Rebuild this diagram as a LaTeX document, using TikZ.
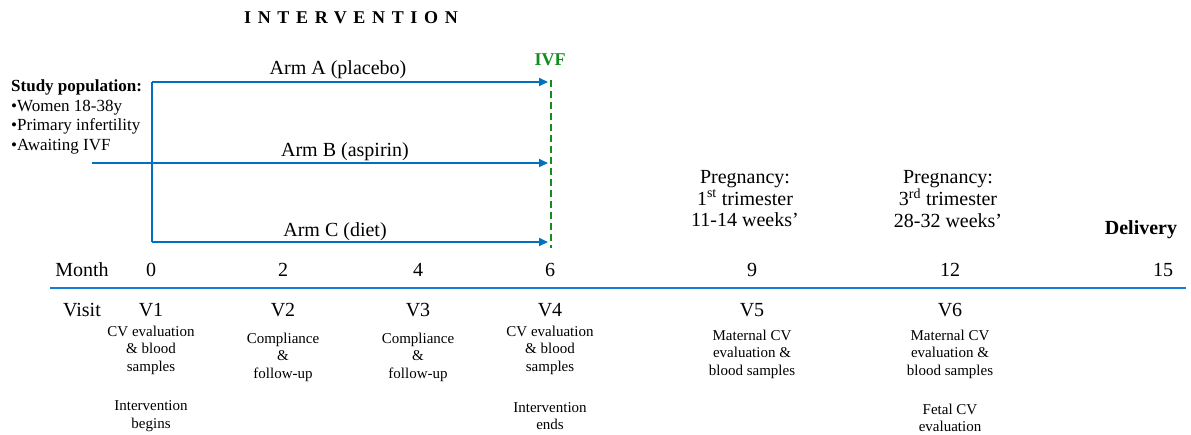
\documentclass[tikz,border=0pt]{standalone}
\usepackage{fontspec}
\setmainfont{Liberation Serif}
\usetikzlibrary{arrows.meta}

\definecolor{armblue}{RGB}{0,112,192}
\definecolor{axisblue}{RGB}{20,125,215}
\definecolor{ivfgreen}{RGB}{20,140,30}

\newcommand{\bigsize}{\fontsize{20}{21.5}\selectfont}
\newcommand{\midsize}{\fontsize{17}{19.5}\selectfont}
\newcommand{\smallsize}{\fontsize{15}{17.5}\selectfont}

\tikzset{
  armline/.style = {armblue, line width=2pt},
  armarrow/.style = {armline, -{Triangle[length=9pt, width=8pt]}},
  lbl/.style = {inner sep=0pt, font=\bigsize},
  note/.style = {inner sep=0pt, align=center, font=\smallsize},
}

\begin{document}
\begin{tikzpicture}[x=1pt, y=-1pt]
    \useasboundingbox (0,0) rectangle (1191,434);

    % title
    \node [inner sep=0pt, font=\fontsize{18}{20}\selectfont\bfseries\addfontfeatures{LetterSpace=37}]
        (title) at (351,18) {INTERVENTION};

    % study population
    \node [inner sep=0pt, anchor=west, align=left, font=\midsize] (pop) at (11,117)
        {\textbf{Study population:}\\•Women 18-38y\\•Primary infertility\\•Awaiting IVF};

    % arms
    \coordinate (split top) at (152,82);
    \coordinate (split bot) at (152,242);
    \coordinate (entry) at (92,163);
    \coordinate (endA) at (548,82);
    \coordinate (endB) at (548,163);
    \coordinate (endC) at (548,242);

    \draw [armline] (split top) -- (split bot);
    \draw [armarrow] (split top) -- (endA);
    \draw [armarrow] (entry) -- (endB);
    \draw [armarrow] (split bot) -- (endC);

    \node [lbl] (armA) at (338,70) {Arm A (placebo)};
    \node [lbl] (armB) at (345,152) {Arm B (aspirin)};
    \node [lbl] (armC) at (335,232) {Arm C (diet)};

    % IVF
    \node [inner sep=0pt, ivfgreen, font=\fontsize{18}{20}\selectfont\bfseries] (ivf) at (550,60) {IVF};
    \coordinate (ivf top) at (551,80);
    \coordinate (ivf bot) at (551,248);
    \draw [ivfgreen, line width=2pt, dash pattern=on 7pt off 4pt] (ivf top) -- (ivf bot);

    % pregnancy
    \node [lbl, align=center] (preg1) at (745,199) {Pregnancy:\\1\textsuperscript{st} trimester\\11-14 weeks’};
    \node [lbl, align=center] (preg3) at (948,199) {Pregnancy:\\3\textsuperscript{rd} trimester\\28-32 weeks’};
    \node [lbl, font=\bigsize\bfseries] (deliv) at (1141,230) {Delivery};

    % timeline
    \node [lbl] (month) at (82,270) {Month};
    \node [lbl] (visit) at (82,310) {Visit};
    \foreach \m/\x/\v in {0/151/V1, 2/283/V2, 4/418/V3, 6/550/V4, 9/752/V5, 12/950/V6} {
        \node [lbl] (m\m) at (\x,270) {\m};
        \node [lbl] (\v) at (\x,310) {\v};
    }
    \node [lbl] (m15) at (1163,270) {15};

    \coordinate (axis start) at (50,288);
    \coordinate (axis end) at (1186,288);
    \draw [axisblue, line width=2pt] (axis start) -- (axis end);

    % visit notes
    \node [note] (n1) at (151,350) {CV evaluation\\\& blood\\samples};
    \node [note] (n1b) at (151,416) {Intervention\\begins};
    \node [note] (n2) at (283,357) {Compliance\\\&\\follow-up};
    \node [note] (n3) at (418,357) {Compliance\\\&\\follow-up};
    \node [note] (n4) at (550,350) {CV evaluation\\\& blood\\samples};
    \node [note] (n4b) at (550,416) {Intervention\\ends};
    \node [note] (n5) at (752,354) {Maternal CV\\evaluation \&\\blood samples};
    \node [note] (n6) at (950,354) {Maternal CV\\evaluation \&\\blood samples};
    \node [note] (n6b) at (950,418) {Fetal CV\\evaluation};

\end{tikzpicture}
\end{document}
